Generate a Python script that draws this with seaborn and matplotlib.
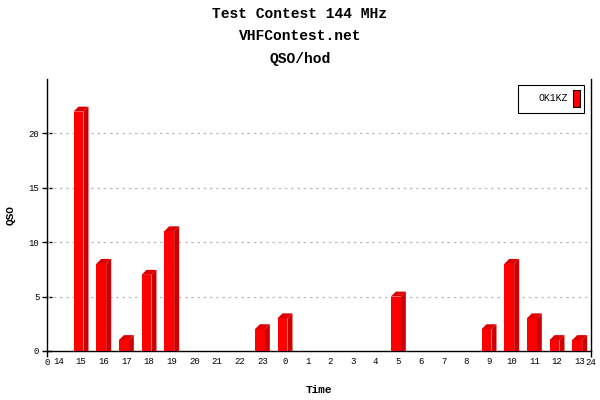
import numpy as np
import pandas as pd
import seaborn as sns
import matplotlib.pyplot as plt
from matplotlib.patches import Polygon, Rectangle

# QSO per hour, contest runs 14:00 -> 13:00 next day
HOURS = ['14', '15', '16', '17', '18', '19', '20', '21', '22', '23', '0', '1',
         '2', '3', '4', '5', '6', '7', '8', '9', '10', '11', '12', '13']
QSO = [0, 22, 8, 1, 7, 11, 0, 0, 0, 2, 3, 0,
       0, 0, 0, 5, 0, 0, 0, 2, 8, 3, 1, 1]
CALL = 'OK1KZ'
TITLES = ['Test Contest 144 MHz', 'VHFContest.net', 'QSO/hod']

sns.set_style('white')
plt.rcParams['font.family'] = ['Liberation Mono', 'DejaVu Sans Mono']
plt.rcParams['text.color'] = 'black'
plt.rcParams['axes.labelcolor'] = 'black'
plt.rcParams['xtick.color'] = 'black'
plt.rcParams['ytick.color'] = 'black'

df = pd.DataFrame({'hour': HOURS, 'qso': QSO})

fig = plt.figure(figsize=(6, 4), dpi=100)
ax = fig.add_axes([47 / 600, 49 / 400, 544 / 600, 272 / 400])

sns.barplot(data=df, x='hour', y='qso', order=HOURS, color='#ff0000',
            saturation=1, width=0.44, ax=ax, zorder=3, linewidth=0)

ax.set_xlim(-0.5, 23.5)
ax.set_ylim(0, 25)

# fake 3d: side + top faces, offset about 5 px
dx, dy = 5 / 22.67, 5 / 10.88
for p in list(ax.patches):
    p.set_x(p.get_x() - 0.11)
    h = p.get_height()
    if h <= 0:
        continue
    x0 = p.get_x()
    x1 = x0 + p.get_width()
    side = Polygon([(x1, 0), (x1 + dx, 0), (x1 + dx, h + dy), (x1, h)],
                   closed=True, facecolor='#cc0000', edgecolor='none', zorder=3)
    top = Polygon([(x0, h), (x0 + dx, h + dy), (x1 + dx, h + dy), (x1, h)],
                  closed=True, facecolor='#dd0000', edgecolor='none', zorder=3)
    ax.add_patch(side)
    ax.add_patch(top)

# axes look
ax.spines['top'].set_visible(False)
for s in ['left', 'bottom', 'right']:
    ax.spines[s].set_color('black')
    ax.spines[s].set_linewidth(1)
ax.set_yticks([0, 5, 10, 15, 20])
ax.tick_params(axis='y', direction='inout', length=7, width=1, labelsize=6.5, pad=2, left=True)
ax.tick_params(axis='x', which='major', length=0, labelsize=6.5, pad=4)
ax.set_xticks([-0.5, 23.5], minor=True)
ax.set_xticklabels(['0', '24'], minor=True)
ax.tick_params(axis='x', which='minor', length=4, width=1, labelsize=6.5, pad=1,
               direction='out', bottom=True)
for y in [5, 10, 15, 20]:
    ax.axhline(y, color='#bbbbbb', lw=0.9, dashes=(2, 3), zorder=1)

ax.set_xlabel('Time', fontsize=8, fontweight='bold')
ax.set_ylabel('QSO', fontsize=8, fontweight='bold')
ax.xaxis.set_label_coords(0.5, -0.125)
ax.yaxis.set_label_coords(-0.057, 0.5)

for i, t in enumerate(TITLES):
    fig.text(0.5, 1 - (14 + 22.5 * i) / 400, t, ha='center', va='center',
             fontsize=10.5, fontweight='bold')

# legend box, drawn by hand (text left padded like the original)
W, H = 600, 400
fig.add_artist(Rectangle((518 / W, 1 - 113 / H), 66 / W, 28 / H, transform=fig.transFigure,
                         facecolor='white', edgecolor='black', lw=0.8, zorder=5))
fig.add_artist(Rectangle((573 / W, 1 - 107 / H), 7 / W, 17 / H, transform=fig.transFigure,
                         facecolor='#ff0000', edgecolor='black', lw=0.8, zorder=6))
fig.text(568 / W, 1 - 98 / H, CALL, ha='right', va='center', fontsize=7, zorder=6)

fig.savefig('out.png', dpi=100)
